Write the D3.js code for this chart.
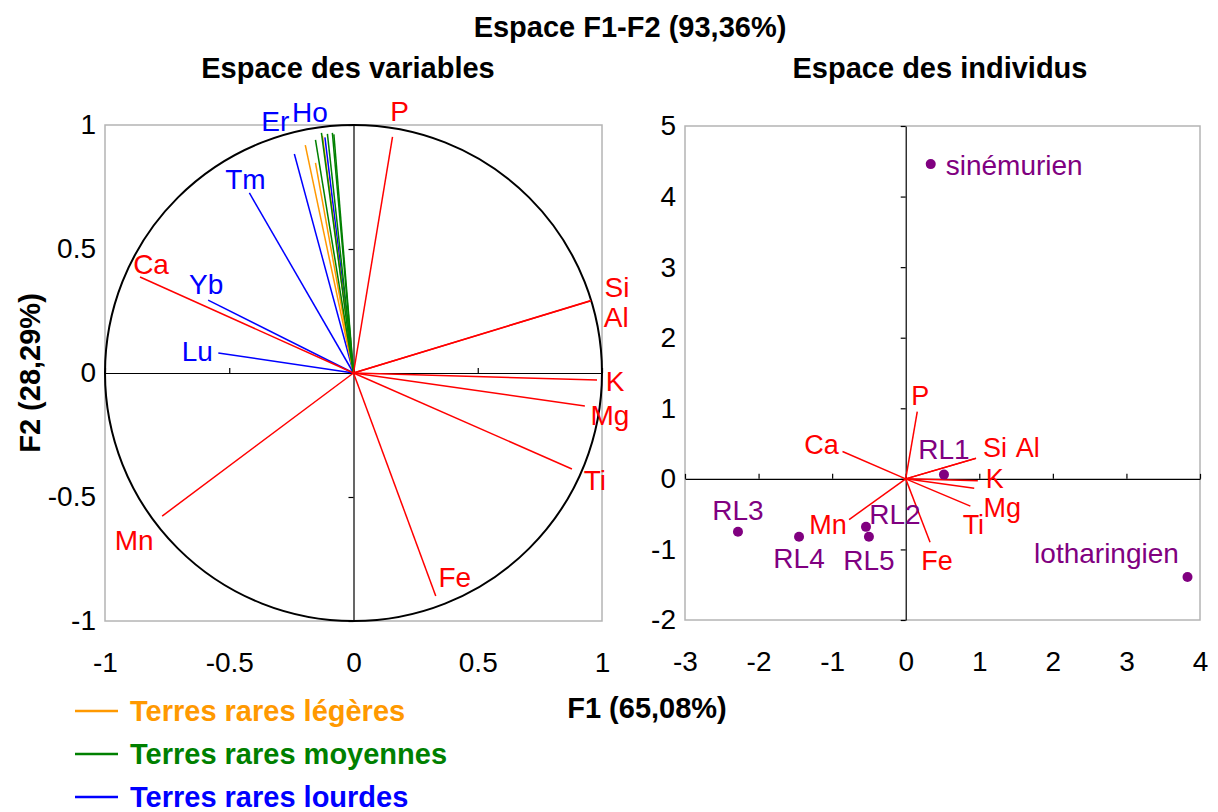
<!DOCTYPE html>
<html>
<head>
<meta charset="utf-8">
<script src="https://cdn.jsdelivr.net/npm/d3@7/dist/d3.min.js"></script>
<style>
  html, body { margin: 0; padding: 0; background: #fff; }
  svg { display: block; font-family: "Liberation Sans", Arial, sans-serif; }
</style>
</head>
<body>
<svg id="chart" width="1218" height="812"></svg>
<script>
// ---- Variable loadings on F1 / F2 ----
const variables = ["Ho", "Lu", "Yb", "Tm", "Er",
                   "La", "Ce", "Nd",
                   "Sm", "Eu", "Gd", "Tb", "Dy",
                   "P", "Si", "Al", "K", "Mg", "Ti", "Fe", "Mn", "Ca"];
const groups = ["lourdes", "lourdes", "lourdes", "lourdes", "lourdes",
                "legeres", "legeres", "legeres",
                "moyennes", "moyennes", "moyennes", "moyennes", "moyennes",
                "majeurs", "majeurs", "majeurs", "majeurs", "majeurs", "majeurs", "majeurs", "majeurs", "majeurs"];
const loadingF1 = [-0.115, -0.544, -0.585, -0.419, -0.238,
                   -0.194, -0.153, -0.125,
                   -0.153, -0.129, -0.105, -0.085, -0.079,
                   0.157, 0.956, 0.953, 0.980, 0.931, 0.879, 0.331, -0.770, -0.859];
const loadingF2 = [0.950, 0.081, 0.294, 0.726, 0.883,
                   0.919, 0.847, 0.956,
                   0.940, 0.968, 0.964, 0.968, 0.962,
                   0.952, 0.292, 0.290, -0.028, -0.133, -0.387, -0.899, -0.577, 0.387];
const labelledVariables = ["Ho", "Lu", "Yb", "Tm", "Er", "P", "Si", "Al", "K", "Mg", "Ti", "Fe", "Mn", "Ca"];
const majorElements = ["P", "Si", "Al", "K", "Mg", "Ti", "Fe", "Mn", "Ca"];

// ---- Individuals (scores on F1 / F2) ----
const individuals = ["sinémurien", "RL1", "RL2", "RL5", "RL4", "RL3", "lotharingien"];
const scoreF1 = [0.34, 0.52, -0.54, -0.50, -1.45, -2.28, 3.83];
const scoreF2 = [4.46, 0.06, -0.68, -0.82, -0.82, -0.75, -1.39];

// ---- Axis ticks ----
const ticksVarX = [-1, -0.5, 0, 0.5, 1];
const ticksVarY = [-1, -0.5, 0, 0.5, 1];
const ticksIndX = [-3, -2, -1, 0, 1, 2, 3, 4];
const ticksIndY = [-2, -1, 0, 1, 2, 3, 4, 5];

// ---- Legend ----
const legendLabels = ["Terres rares légères", "Terres rares moyennes", "Terres rares lourdes"];
const legendGroups = ["legeres", "moyennes", "lourdes"];

// ---- Styling ----
const groupColor = { majeurs: "#ff0000", legeres: "#ff9900", moyennes: "#008000", lourdes: "#0000ff" };
const pointColor = "#800080";
const FONT = 28;
const SMALL_FONT = 27;
const BOLD_FONT = 29;

// label placement (pixel offsets from the arrow tip / point)
const varLabelOffsetLeft = {
  P: [7, -25], Si: [26, -13], Al: [26, 16], K: [18, 2], Mg: [25, 10], Ti: [23, 12],
  Fe: [19, -18], Mn: [-28, 24], Ca: [11, -13], Yb: [-2, -16], Lu: [-21, -1],
  Tm: [-4, -13], Er: [-19, -33], Ho: [-15, -25]
};
const varLabelOffsetRight = {
  P: [3, -16], Ca: [-21, -7], Si: [19, -10], Al: [52, -10], K: [17, -2],
  Mg: [28, 20], Ti: [3, 19], Fe: [7, 19], Mn: [-21, 5]
};
const indLabelOffset = {
  "sinémurien": [15, 1, "start"], RL1: [0, -25, "middle"], RL2: [29, -12, "middle"],
  RL5: [0, 24, "middle"], RL4: [0, 22, "middle"], RL3: [0, -21, "middle"],
  "lotharingien": [-81, -23, "middle"]
};

const svg = d3.select("#chart");
svg.append("rect").attr("width", 1218).attr("height", 812).attr("fill", "#fff");

const vars = variables.map((v, i) => ({ name: v, group: groups[i], x: loadingF1[i], y: loadingF2[i] }));
const inds = individuals.map((n, i) => ({ name: n, x: scoreF1[i], y: scoreF2[i] }));

// ---- Scales ----
const xL = d3.scaleLinear().domain([-1, 1]).range([105, 602]);
const yL = d3.scaleLinear().domain([-1, 1]).range([621, 125]);
const xR = d3.scaleLinear().domain([-3, 4]).range([685, 1200]);
const yR = d3.scaleLinear().domain([-2, 5]).range([620, 126]);

function frame(x, y) {
  const [x0, x1] = x.range(), [y1, y0] = y.range();
  svg.append("rect")
    .attr("x", x0).attr("y", y0).attr("width", x1 - x0).attr("height", y1 - y0)
    .attr("fill", "none").attr("stroke", "#b4b4b4").attr("stroke-width", 1.5);
}

function outerAxes(x, y, tx, ty) {
  const [x0] = x.range(), [y1] = y.range();
  const gl = svg.append("g").attr("transform", `translate(${x0},0)`)
    .call(d3.axisLeft(y).tickValues(ty).tickFormat(d => String(d)).tickSize(0).tickPadding(9));
  const gb = svg.append("g").attr("transform", `translate(0,${y1})`)
    .call(d3.axisBottom(x).tickValues(tx).tickFormat(d => String(d)).tickSize(0).tickPadding(31));
  [gl, gb].forEach(g => {
    g.select(".domain").remove();
    g.selectAll("text").attr("font-size", FONT).attr("fill", "#000")
      .attr("font-family", '"Liberation Sans", Arial, sans-serif');
  });
}

function innerAxes(x, y, tx, ty) {
  const gv = svg.append("g").attr("transform", `translate(${x(0)},0)`)
    .call(d3.axisLeft(y).tickValues(ty).tickFormat("").tickSize(5).tickSizeOuter(0));
  const gh = svg.append("g").attr("transform", `translate(0,${y(0)})`)
    .call(d3.axisTop(x).tickValues(tx).tickFormat("").tickSize(5).tickSizeOuter(0));
  [gv, gh].forEach(g => g.selectAll("path, line").attr("stroke", "#000").attr("stroke-width", 1.2));
}

// ================= Left panel: variables =================
frame(xL, yL);
svg.append("ellipse")
  .attr("cx", xL(0)).attr("cy", yL(0))
  .attr("rx", xL(1) - xL(0)).attr("ry", yL(0) - yL(1))
  .attr("fill", "none").attr("stroke", "#000").attr("stroke-width", 2);
innerAxes(xL, yL, ticksVarX, ticksVarY);
outerAxes(xL, yL, ticksVarX, ticksVarY);

const drawOrder = ["lourdes", "legeres", "moyennes", "majeurs"];
drawOrder.forEach(gname => {
  svg.append("g").selectAll("line")
    .data(vars.filter(d => d.group === gname))
    .join("line")
    .attr("x1", xL(0)).attr("y1", yL(0))
    .attr("x2", d => xL(d.x)).attr("y2", d => yL(d.y))
    .attr("stroke", groupColor[gname]).attr("stroke-width", 1.5);
});

svg.append("g").selectAll("text")
  .data(vars.filter(d => labelledVariables.includes(d.name)))
  .join("text")
  .attr("x", d => xL(d.x) + varLabelOffsetLeft[d.name][0])
  .attr("y", d => yL(d.y) + varLabelOffsetLeft[d.name][1])
  .attr("text-anchor", "middle").attr("dominant-baseline", "central")
  .attr("font-size", FONT).attr("fill", d => groupColor[d.group])
  .text(d => d.name);

// ================= Right panel: individuals =================
frame(xR, yR);
innerAxes(xR, yR, ticksIndX, ticksIndY);
outerAxes(xR, yR, ticksIndX, ticksIndY);

const majors = vars.filter(d => majorElements.includes(d.name));
svg.append("g").selectAll("line")
  .data(majors)
  .join("line")
  .attr("x1", xR(0)).attr("y1", yR(0))
  .attr("x2", d => xR(d.x)).attr("y2", d => yR(d.y))
  .attr("stroke", groupColor.majeurs).attr("stroke-width", 1.5);

svg.append("g").selectAll("text")
  .data(majors)
  .join("text")
  .attr("x", d => xR(d.x) + varLabelOffsetRight[d.name][0])
  .attr("y", d => yR(d.y) + varLabelOffsetRight[d.name][1])
  .attr("text-anchor", "middle").attr("dominant-baseline", "central")
  .attr("font-size", SMALL_FONT).attr("fill", groupColor.majeurs)
  .text(d => d.name);

svg.append("g").selectAll("circle")
  .data(inds)
  .join("circle")
  .attr("cx", d => xR(d.x)).attr("cy", d => yR(d.y)).attr("r", 5)
  .attr("fill", pointColor);

svg.append("g").selectAll("text")
  .data(inds)
  .join("text")
  .attr("x", d => xR(d.x) + indLabelOffset[d.name][0])
  .attr("y", d => yR(d.y) + indLabelOffset[d.name][1])
  .attr("text-anchor", d => indLabelOffset[d.name][2]).attr("dominant-baseline", "central")
  .attr("font-size", FONT).attr("fill", pointColor)
  .text(d => d.name);

// ================= Titles =================
const bold = sel => sel.attr("font-weight", "bold").attr("font-size", BOLD_FONT).attr("fill", "#000");
svg.append("text").attr("x", 630).attr("y", 37).attr("text-anchor", "middle")
  .call(bold).text("Espace F1-F2 (93,36%)");
svg.append("text").attr("x", 348).attr("y", 78).attr("text-anchor", "middle")
  .call(bold).text("Espace des variables");
svg.append("text").attr("x", 940).attr("y", 78).attr("text-anchor", "middle")
  .call(bold).text("Espace des individus");
svg.append("text").attr("x", 647).attr("y", 718).attr("text-anchor", "middle")
  .call(bold).text("F1 (65,08%)");
svg.append("text").attr("transform", "translate(40,373) rotate(-90)").attr("text-anchor", "middle")
  .call(bold).text("F2 (28,29%)");

// ================= Legend =================
const legend = svg.append("g").selectAll("g")
  .data(legendLabels.map((l, i) => ({ label: l, group: legendGroups[i] })))
  .join("g")
  .attr("transform", (d, i) => `translate(0,${711 + i * 43})`);
legend.append("line").attr("x1", 75).attr("x2", 118).attr("y1", 0).attr("y2", 0)
  .attr("stroke", d => groupColor[d.group]).attr("stroke-width", 2.5);
legend.append("text").attr("x", 130).attr("y", 0).attr("dominant-baseline", "central")
  .attr("font-weight", "bold").attr("font-size", BOLD_FONT)
  .attr("fill", d => groupColor[d.group]).text(d => d.label);
</script>
</body>
</html>
